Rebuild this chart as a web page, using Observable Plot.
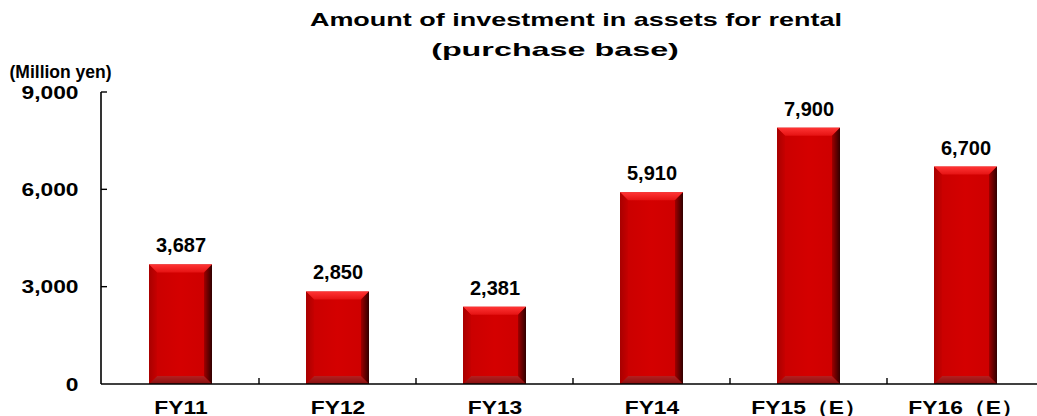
<!DOCTYPE html>
<html><head><meta charset="utf-8">
<script src="https://cdn.jsdelivr.net/npm/d3@7"></script>
<script src="https://cdn.jsdelivr.net/npm/@observablehq/plot@0.6"></script>
<style>
html,body{margin:0;padding:0;background:#fff;}
#wrap{position:relative;width:1037px;height:416px;overflow:hidden;font-family:"Liberation Sans",Arial,sans-serif;}
#chart{position:absolute;left:0;top:0;}
.tl{position:absolute;white-space:nowrap;font-weight:bold;font-size:19px;line-height:19px;color:#000;transform-origin:center;}
#t1{left:576px;top:10px;transform:translateX(-50%) scaleX(1.42);}
#t2{left:555px;top:40px;transform:translateX(-50%) scaleX(1.7);}
</style></head><body>
<div id="wrap"><div id="chart"></div><div class="tl" id="t1"></div><div class="tl" id="t2"></div></div>
<script>
const titleLines = ["Amount of investment in assets for rental", "(purchase base)"];
const yLabel = "(Million yen)";
const categories = ["FY11", "FY12", "FY13", "FY14", "FY15（E）", "FY16（E）"];
const values = [3687, 2850, 2381, 5910, 7900, 6700];
const yTicks = [0, 3000, 6000, 9000];

document.getElementById("t1").textContent = titleLines[0];
document.getElementById("t2").textContent = titleLines[1];

const rows = categories.map((c, i) => ({cat: c, value: values[i]}));
const fmt = d3.format(",");

function defs() {
  const d = d3.create("svg:defs");
  const lg = (id, x2, y2, stops) => {
    const g = d.append("linearGradient").attr("id", id)
      .attr("x1", 0).attr("y1", 0).attr("x2", x2).attr("y2", y2);
    stops.forEach(([o, c]) => g.append("stop").attr("offset", o).attr("stop-color", c));
  };
  lg("face", 1, 0, [[0, "#c80000"], [0.5, "#d40000"], [1, "#cc0000"]]);
  lg("bevTop", 0, 1, [[0, "#ff3535"], [1, "#e51212"]]);
  lg("bevBot", 0, 1, [[0, "#b42020"], [1, "#861010"]]);
  lg("bevLeft", 1, 0, [[0, "#a80000"], [1, "#c60000"]]);
  lg("bevRight", 1, 0, [[0, "#a00000"], [1, "#300000"]]);
  return d.node();
}

function bevels(I, scales) {
  const x = scales.x, y = scales.y, bw = x.bandwidth(), b = 8;
  const g = d3.create("svg:g").attr("aria-label", "bar bevels");
  const poly = (pts, fill) => g.append("polygon")
    .attr("points", pts.map(p => p.join(",")).join(" ")).attr("fill", fill);
  categories.forEach((c, i) => {
    const x0 = x(c), x1 = x0 + bw, yt = y(values[i]), yb = y(0);
    poly([[x0, yt], [x1, yt], [x1 - b, yt + b], [x0 + b, yt + b]], "url(#bevTop)");
    poly([[x0, yb], [x1, yb], [x1 - b, yb - b], [x0 + b, yb - b]], "url(#bevBot)");
    poly([[x0, yt], [x0 + b, yt + b], [x0 + b, yb - b], [x0, yb]], "url(#bevLeft)");
    poly([[x1, yt], [x1 - b, yt + b], [x1 - b, yb - b], [x1, yb]], "url(#bevRight)");
  });
  return g.node();
}

function axisLines(I, scales, V, dims) {
  const x = scales.x, y = scales.y, bw = x.bandwidth();
  const g = d3.create("svg:g").attr("aria-label", "axis lines").attr("stroke", "#000").attr("fill", "none");
  const y0 = y(0), left = dims.marginLeft, right = dims.width - dims.marginRight;
  g.append("line").attr("x1", left).attr("x2", left).attr("y1", y(yTicks[yTicks.length - 1])).attr("y2", y0).attr("stroke-width", 1.6);
  yTicks.filter(t => t > 0).forEach(t => {
    g.append("line").attr("x1", left).attr("x2", left + 6).attr("y1", y(t)).attr("y2", y(t)).attr("stroke-width", 1.4);
  });
  g.append("line").attr("x1", left).attr("x2", right).attr("y1", y0).attr("y2", y0).attr("stroke-width", 1.6);
  for (let i = 1; i < categories.length; i++) {
    const xb = (x(categories[i - 1]) + x(categories[i])) / 2 + bw / 2;
    g.append("line").attr("x1", xb).attr("x2", xb).attr("y1", y0).attr("y2", y0 - 6).attr("stroke-width", 1.4);
  }
  return g.node();
}

const svg = Plot.plot({
  width: 1037,
  height: 416,
  marginTop: 92,
  marginBottom: 32,
  marginLeft: 101,
  marginRight: 0,
  style: {fontFamily: "'Liberation Sans', Arial, sans-serif", fontWeight: "bold", color: "#000", background: "transparent"},
  x: {domain: categories, range: [101, 1045], paddingInner: 0.6, paddingOuter: 0.3, label: null},
  y: {domain: [0, 9000], label: null},
  marks: [
    defs,
    Plot.barY(rows, {x: "cat", y: "value", fill: "url(#face)"}),
    bevels,
    axisLines,
    Plot.text(rows, {x: "cat", y: "value", text: d => fmt(d.value), dy: -19, fontSize: 20, fill: "#000", ariaLabel: "value label"}),
    Plot.axisY({ticks: yTicks, tickFormat: d => fmt(d), tickSize: 0, tickPadding: 23, fontSize: 19, label: null}),
    Plot.axisX({tickSize: 0, tickPadding: 16, fontSize: 19, label: null}),
    Plot.text([yLabel], {frameAnchor: "top-left", textAnchor: "start", dx: -92, dy: -27, fontSize: 17.5, fill: "#000"})
  ]
});

document.getElementById("chart").appendChild(svg);

// horizontal stretch of the bold labels, keeping each label's anchor point fixed
svg.querySelectorAll('g[aria-label="y-axis tick label"] text, g[aria-label="x-axis tick label"] text, g[aria-label="value label"] text')
  .forEach(t => {
    const b = t.getBBox();
    const anchor = getComputedStyle(t).textAnchor;
    const ax = anchor === "end" ? b.x + b.width : anchor === "middle" ? b.x + b.width / 2 : b.x;
    const tr = t.getAttribute("transform") || "";
    t.setAttribute("transform", `${tr} translate(${ax},0) scale(1.2,1) translate(${-ax},0)`.trim());
  });
</script>
</body></html>
